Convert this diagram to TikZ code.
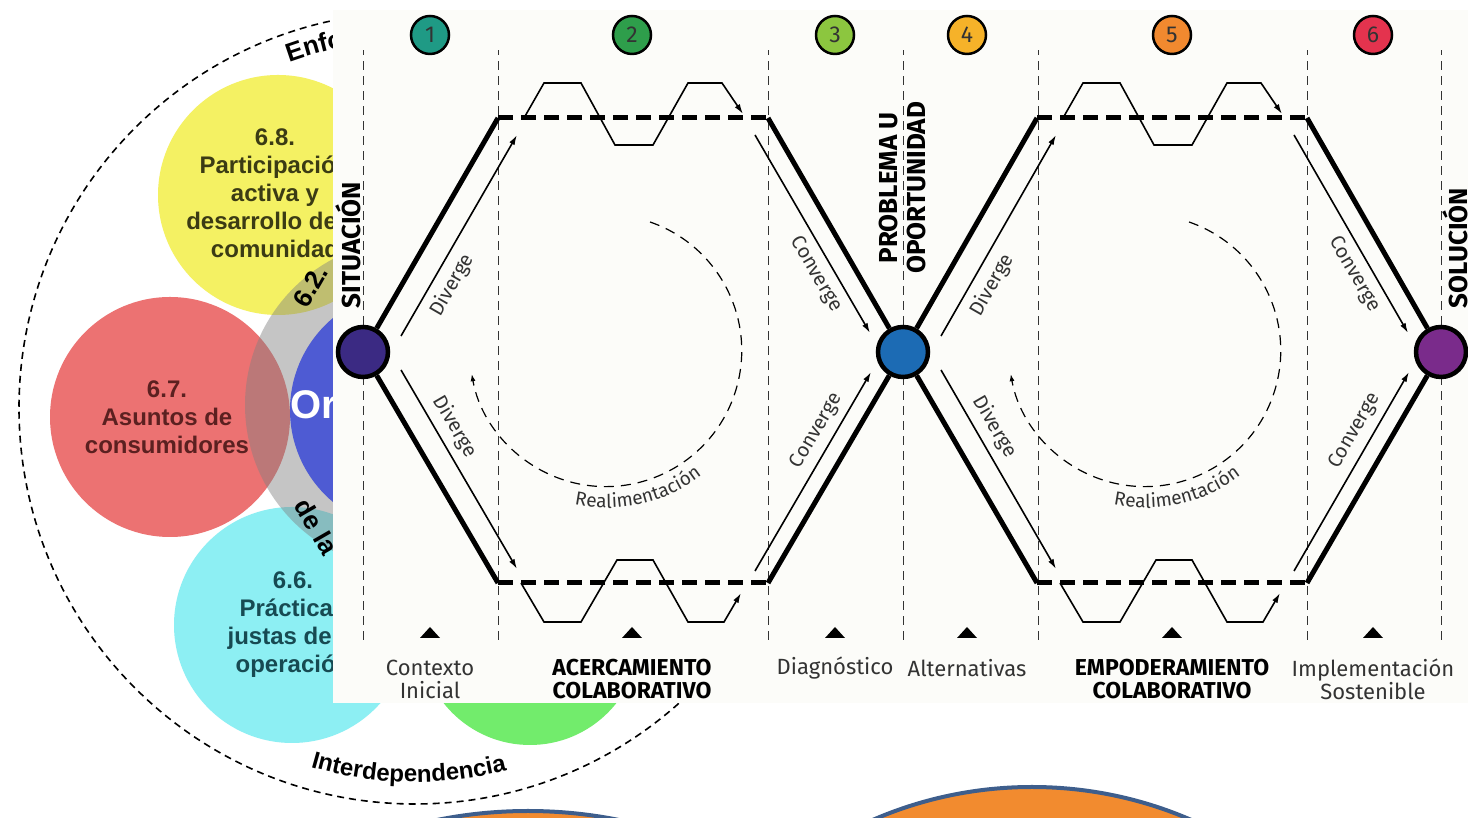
\documentclass[tikz,border=0pt]{standalone}
\usepackage{fontspec}
\setmainfont{Fira Sans}
\newfontfamily\isofont{Liberation Sans}
\usepackage{tikz}
\usetikzlibrary{
  positioning,
  calc,
  decorations.text,
  arrows.meta,
  arrows
}
\usepackage{xcolor}

\definecolor{paper}{HTML}{FCFCF9}
\definecolor{petyellow}{HTML}{F4F163}
\definecolor{petred}{HTML}{EC7272}
\definecolor{petcyan}{HTML}{8DEFF3}
\definecolor{petgreen}{HTML}{72EC6C}
\definecolor{petblue}{HTML}{4E5BD3}
\definecolor{olivetxt}{HTML}{3B3B14}
\definecolor{redtxt}{HTML}{5B2020}
\definecolor{tealtxt}{HTML}{174A52}
\definecolor{ph1}{HTML}{1F9A85}
\definecolor{ph2}{HTML}{2E9E4B}
\definecolor{ph3}{HTML}{8CC63F}
\definecolor{ph4}{HTML}{F6B229}
\definecolor{ph5}{HTML}{F1892F}
\definecolor{ph6}{HTML}{E4334E}
\definecolor{sitcol}{HTML}{3B2A83}
\definecolor{probcol}{HTML}{1C6BB4}
\definecolor{solcol}{HTML}{7A2B8B}
\definecolor{txtgray}{HTML}{333333}
\definecolor{blobfill}{HTML}{F28B2F}
\definecolor{blobedge}{HTML}{3E5E8C}

\begin{document}
\begin{tikzpicture}[x=1pt,y=1pt,>={Latex[length=10pt,width=6pt]},
  petaltxt/.style={align=center,font=\isofont\bfseries\fontsize{24}{28}\selectfont},
  ringtxt/.style={font=\isofont\bfseries\fontsize{26}{26}\selectfont},
  guide/.style={line width=1pt,draw=txtgray,dash pattern=on 9pt off 6pt},
  heavy/.style={line width=5pt},
  heavydash/.style={heavy,dash pattern=on 15pt off 8pt},
  thinarr/.style={line width=1.6pt,->},
  wave/.style={line width=1.6pt,->},
  loopback/.style={line width=1.2pt,dash pattern=on 10pt off 7pt,-{Latex[length=7pt,width=5pt]}},
  hub/.style={circle,draw,line width=4.5pt,minimum size=50pt,inner sep=0pt},
  numdot/.style={circle,draw,line width=2.5pt,minimum size=38pt,inner sep=0pt,
    text=txtgray,font=\fontsize{23}{23}\selectfont},
  hubtxt/.style={align=center,font=\bfseries\fontsize{26}{28}\selectfont},
  phlbl/.style={align=center,text=txtgray,font=\fontsize{22}{23}\selectfont},
  phbold/.style={align=center,font=\bfseries\fontsize{23}{23}\selectfont},
  slopelbl/.style={text=txtgray,font=\fontsize{20}{20}\selectfont}
]
\clip (0,0) rectangle (1468,818);
\fill[white] (0,0) rectangle (1468,818);

% ISO 26000 flower behind the panel
\fill[petyellow] (278,623) circle (120);
\fill[petred] (170,401) circle (120);
\fill[petcyan] (292,193) circle (118);
\fill[petgreen] (530,183) circle (110);
\fill[gray,fill opacity=0.45] (410,413) circle (165);
\fill[petblue] (410,408) circle (120);
\node[petaltxt,text=olivetxt] (p68) at (275,625) {6.8.\\Participación\\activa y\\desarrollo de la\\comunidad};
\node[petaltxt,text=redtxt] (p67) at (167,401) {6.7.\\Asuntos de\\consumidores};
\node[petaltxt,text=tealtxt] (p66) at (293,193) {6.6.\\Prácticas\\justas de la\\operación};
\node[ringtxt,anchor=west,rotate=60] (ring1) at (298,510) {6.2.};
\node[ringtxt,anchor=west,rotate=-60] (ring2) at (300,320) {de la};
\node[anchor=west,text=white,font=\isofont\bfseries\fontsize{40}{40}\selectfont] (org) at (287,410) {Organización};
\draw[line width=1.6pt,dash pattern=on 7pt off 5pt] (415,410) circle (396);
\path[decorate,decoration={text along path,text align=center,
  text={|\isofont\bfseries\fontsize{24}{24}\selectfont|Interdependencia}}]
  ({415+374*cos(238)},{410+374*sin(238)}) arc[start angle=238,end angle=300,radius=374];
\path[decorate,decoration={text along path,text align=left,
  text={|\isofont\bfseries\fontsize{26}{26}\selectfont|Enfoque}}]
  ({415+368*cos(110)},{410+368*sin(110)}) arc[start angle=110,end angle=60,radius=368];

% the double diamond panel
\fill[paper] (333,115) rectangle (1468,808);

\foreach \x in {363,498,768,903,1038,1307,1441}
  \draw[guide] (\x,178) -- (\x,768);

\foreach \x/\n in {430/1,632/2,835/3,967/4,1172/5,1373/6}{
  \node[numdot,fill=ph\n] (num\n) at (\x,783) {\n};
  \fill (\x-10,180) -- (\x+10,180) -- (\x,191) -- cycle;
}

\node[hub,fill=sitcol] (sit) at (363,466) {};
\node[hub,fill=probcol] (prob) at (903,466) {};
\node[hub,fill=solcol] (sol) at (1441,466) {};

\node[hubtxt,rotate=90] (sitlbl) at (348,573) {SITUACIÓN};
\node[hubtxt,rotate=90] (problbl) at (902,630) {PROBLEMA U\\OPORTUNIDAD};
\node[hubtxt,rotate=90] (sollbl) at (1455,570) {SOLUCIÓN};

\node[phlbl] (lab1) at (430,139) {Contexto\\Inicial};
\node[phbold] (lab2) at (632,139) {ACERCAMIENTO\\COLABORATIVO};
\node[phlbl] (lab3) at (835,150) {Diagnóstico};
\node[phlbl] (lab4) at (967,150) {Alternativas};
\node[phbold] (lab5) at (1172,139) {EMPODERAMIENTO\\COLABORATIVO};
\node[phlbl] (lab6) at (1373,139) {Implementación\\Sostenible};

\foreach \i/\a/\b/\s in {1/sit/prob/0,2/prob/sol/539}{
  \coordinate (tl\i) at (498+\s,700);
  \coordinate (tr\i) at (768+\s,700);
  \coordinate (bl\i) at (498+\s,235);
  \coordinate (br\i) at (768+\s,235);
  \draw[heavy] (\a) -- (tl\i);
  \draw[heavydash] (tl\i) -- (tr\i);
  \draw[heavy] (tr\i) -- (\b);
  \draw[heavy] (\a) -- (bl\i);
  \draw[heavydash] (bl\i) -- (br\i);
  \draw[heavy] (br\i) -- (\b);
  \draw[thinarr] ($(\a)+(38,16)$) -- node[pos=0.3,sloped,below=5pt,slopelbl] {Diverge} ($(tl\i)+(19,-17)$);
  \draw[thinarr] ($(\a)+(38,-18)$) -- node[pos=0.33,sloped,above=4pt,slopelbl] {Diverge} ($(bl\i)+(19,14)$);
  \draw[thinarr] ($(tr\i)+(-13,-17)$) -- node[pos=0.66,sloped,below=4pt,slopelbl] {Converge} ($(\b)+(-33,19)$);
  \draw[thinarr] ($(br\i)+(-13,12)$) -- node[pos=0.66,sloped,above=4pt,slopelbl] {Converge} ($(\b)+(-32,-20)$);
  % trapezoid waves
  \draw[wave] (524+\s,700) -- ++(20,35) -- ++(37,0) -- ++(34,-62) -- ++(38,0)
    -- ++(35,62) -- ++(34,0) -- ++(21,-31);
  \draw[wave] (521+\s,235) -- ++(23,-39) -- ++(37,0) -- ++(36,62) -- ++(36,0)
    -- ++(35,-62) -- ++(36,0) -- ++(17,29);
  % feedback
  \draw[loopback] (650+\s,596) arc[start angle=71,end angle=-170,radius=136];
  \path[decorate,decoration={text along path,text align=center,text color=txtgray,
    text={|\fontsize{19}{19}\selectfont|Realimentación}}]
    ({606+\s+157*cos(-128)},{467+157*sin(-128)}) arc[start angle=-128,end angle=-26,radius=157];
}

% orange shapes at the bottom
\filldraw[fill=blobfill,draw=blobedge,line width=4pt] (528,-453) circle (460);
\filldraw[fill=blobfill,draw=blobedge,line width=4pt] (1032,-369) circle (400);
\end{tikzpicture}
\end{document}
